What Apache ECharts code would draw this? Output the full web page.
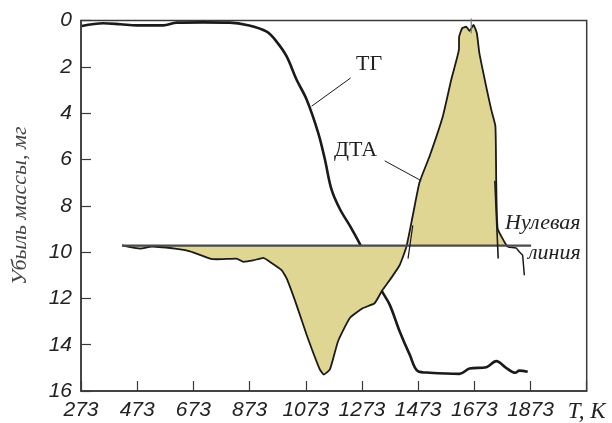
<!DOCTYPE html>
<html>
<head>
<meta charset="utf-8">
<script src="https://cdn.jsdelivr.net/npm/echarts@6/dist/echarts.min.js"></script>
<style>html,body{margin:0;padding:0;background:#fff;}#c{width:612px;height:423px;}</style>
</head>
<body>
<div id="c"></div>
<script>
// Temperature ticks (K)
var xTicks = [273, 473, 673, 873, 1073, 1273, 1473, 1673, 1873, 2073];
var yTicks = [0, 2, 4, 6, 8, 10, 12, 14, 16];

// ТГ curve: [T, mass loss mg]
var tgT = [276, 352, 413, 472, 566, 614, 708, 803, 863, 934, 969, 1005, 1040, 1076, 1117, 1141, 1164, 1194, 1236, 1271, 1342, 1372, 1407, 1443, 1472, 1514, 1620, 1656, 1716, 1751, 1786, 1819, 1833, 1863];
var tgV = [0.24, 0.12, 0.16, 0.21, 0.21, 0.09, 0.08, 0.09, 0.19, 0.48, 0.91, 1.55, 2.55, 3.41, 4.84, 5.99, 7.27, 8.13, 8.99, 9.78, 11.64, 12.28, 13.42, 14.43, 15.14, 15.21, 15.26, 15.03, 14.97, 14.71, 15.0, 15.21, 15.12, 15.17];

// ДТА curve (filled part)
var dtaT = [419, 484, 525, 626, 661, 732, 756, 827, 851, 886, 922, 945, 987, 1005, 1040, 1076, 1123, 1137, 1159, 1188, 1230, 1277, 1318, 1346, 1372, 1407, 1431, 1454, 1478, 1514, 1561, 1591, 1618, 1619, 1630, 1644, 1656, 1670, 1682, 1691, 1715, 1733, 1748, 1751, 1756, 1780, 1792];
var dtaV = [9.71, 9.85, 9.76, 9.88, 9.97, 10.28, 10.31, 10.28, 10.42, 10.36, 10.25, 10.42, 10.78, 11.14, 12.28, 13.57, 15.07, 15.29, 15.07, 13.85, 12.85, 12.42, 12.21, 11.64, 11.21, 10.57, 9.78, 8.42, 6.99, 5.85, 4.13, 2.55, 1.27, 0.70, 0.33, 0.27, 0.45, 0.19, 0.55, 1.41, 2.84, 3.84, 4.56, 6.99, 8.99, 9.56, 9.78];

// ДТА tail after the zero line
var tailT = [1792, 1822, 1833, 1845, 1851];
var tailV = [9.78, 9.82, 9.99, 10.14, 11.0];

// Zero line (Нулевая линия)
var zeroLevel = 9.72;
var zeroT = [419, 1875];

// Tangent / marker lines
var mark1T = [1454, 1437], mark1V = [8.85, 10.28];
var mark2T = [1746, 1758], mark2V = [6.92, 10.28];
var mark3T = [1662, 1662], mark3V = [-0.09, 0.55];

// Leader lines for labels
var tgLeadT = [1233, 1094], tgLeadV = [2.48, 3.70];
var dtaLeadT = [1354, 1484], dtaLeadV = [6.06, 6.92];

function zip(a, b) { return a.map(function (v, i) { return [v, b[i]]; }); }

var chart = echarts.init(document.getElementById('c'), null, {renderer: 'canvas'});
var lineBase = {type: 'line', showSymbol: false, symbol: 'none', silent: true, animation: false};

var option = {
  animation: false,
  grid: {left: 81, right: 25.3, top: 20.5, bottom: 29.7, show: true, borderColor: '#3a3a3a', borderWidth: 1.5, backgroundColor: 'transparent'},
  xAxis: {
    type: 'value', min: 273, max: 2073, interval: 200, position: 'bottom',
    axisLine: {onZero: false, lineStyle: {color: '#3a3a3a', width: 1.5}},
    axisTick: {inside: true, length: 10, lineStyle: {color: '#3a3a3a', width: 1.2}},
    splitLine: {show: false},
    axisLabel: {
      margin: 9,
      fontFamily: 'Liberation Sans', fontStyle: 'italic', fontSize: 21, color: '#222',
      formatter: function (v) { return v === 2073 ? '{u|T, K}' : String(v); },
      rich: {u: {fontFamily: 'Liberation Serif', fontStyle: 'italic', fontSize: 23, color: '#222'}}
    }
  },
  yAxis: {
    type: 'value', inverse: true, min: 0, max: 16, interval: 2,
    name: 'Убыль массы, мг', nameLocation: 'middle', nameGap: 50, nameRotate: 90,
    nameTextStyle: {fontFamily: 'Liberation Serif', fontStyle: 'italic', fontSize: 22, color: '#444'},
    axisLine: {onZero: false, lineStyle: {color: '#3a3a3a', width: 1.5}},
    axisTick: {inside: true, length: 10, lineStyle: {color: '#3a3a3a', width: 1.2}},
    splitLine: {show: false},
    axisLabel: {margin: 9, fontFamily: 'Liberation Sans', fontStyle: 'italic', fontSize: 21, color: '#222'}
  },
  series: [
    Object.assign({}, lineBase, {name: 'ТГ', data: zip(tgT, tgV), z: 2, smooth: 0.35, lineStyle: {color: '#1a1a1a', width: 2.6}}),
    Object.assign({}, lineBase, {name: 'ДТА', data: zip(dtaT, dtaV), z: 3, smooth: 0.15,
      lineStyle: {color: '#1a1a1a', width: 1.8},
      areaStyle: {color: '#dfd694', opacity: 1, origin: zeroLevel}}),
    Object.assign({}, lineBase, {name: 'tail', data: zip(tailT, tailV), z: 4, lineStyle: {color: '#1a1a1a', width: 1.5}}),
    Object.assign({}, lineBase, {name: 'zero', data: zeroT.map(function (t) { return [t, zeroLevel]; }), z: 5, lineStyle: {color: '#4a4a4a', width: 2.4}}),
    Object.assign({}, lineBase, {data: zip(mark1T, mark1V), z: 6, lineStyle: {color: '#1a1a1a', width: 1.2}}),
    Object.assign({}, lineBase, {data: zip(mark2T, mark2V), z: 6, lineStyle: {color: '#1a1a1a', width: 1.6}}),
    Object.assign({}, lineBase, {data: zip(mark3T, mark3V), z: 6, clip: false, lineStyle: {color: '#777', width: 1.2}}),
    Object.assign({}, lineBase, {data: zip(tgLeadT, tgLeadV), z: 6, lineStyle: {color: '#1a1a1a', width: 1}}),
    Object.assign({}, lineBase, {data: zip(dtaLeadT, dtaLeadV), z: 6, lineStyle: {color: '#1a1a1a', width: 1}})
  ],
  graphic: [
    {type: 'text', left: 356, top: 53, z: 10, style: {text: 'ТГ', font: '22px "Liberation Serif"', fill: '#222'}},
    {type: 'text', left: 334, top: 139, z: 10, style: {text: 'ДТА', font: '22px "Liberation Serif"', fill: '#222'}},
    {type: 'text', left: 505, top: 212, z: 10, style: {text: 'Нулевая', font: 'italic 22px "Liberation Serif"', fill: '#222'}},
    {type: 'text', left: 528, top: 242, z: 10, style: {text: 'линия', font: 'italic 22px "Liberation Serif"', fill: '#222'}}
  ]
};
chart.setOption(option);
</script>
</body>
</html>
